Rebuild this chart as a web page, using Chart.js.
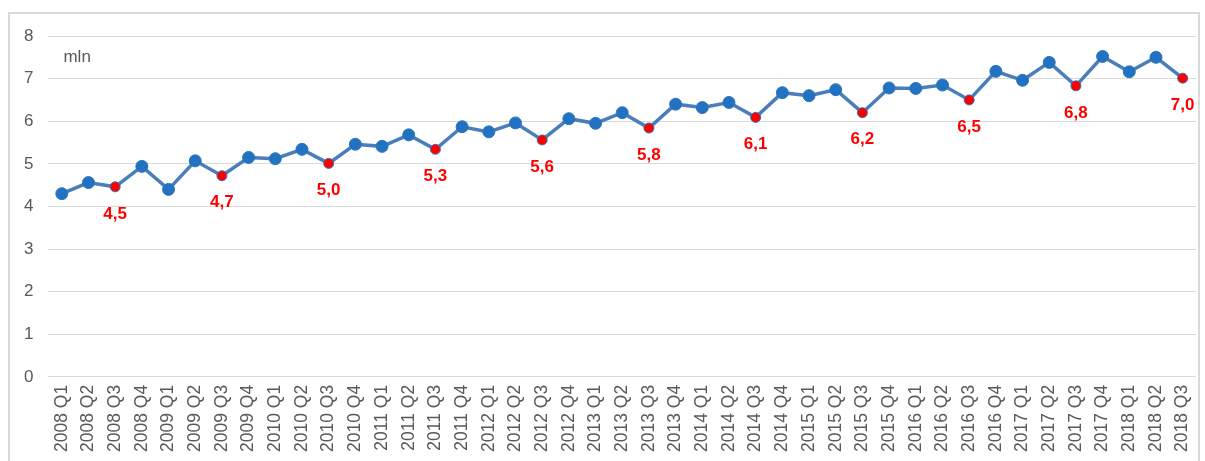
<!DOCTYPE html>
<html>
<head>
<meta charset="utf-8">
<script src="https://cdn.jsdelivr.net/npm/chart.js@4.4.0/dist/chart.umd.min.js"></script>
<style>
    body { margin: 0; background: #fff; overflow: hidden; }
    #frame { position: absolute; left: 8px; top: 12px; width: 1192px; height: 470px; border: 2px solid #d9d9d9; box-sizing: border-box; }
    #wrap { position: absolute; left: 0; top: 0; width: 1205px; height: 461px; }
</style>
</head>
<body>
<div id="frame"></div>
<div id="wrap"><canvas id="graphCanvas"></canvas></div>
<script>
var quarters = [];
var years = ['2008','2009','2010','2011','2012','2013','2014','2015','2016','2017','2018'];
for (var y = 0; y < years.length; y++) {
    for (var q = 1; q <= 4; q++) {
        if (years[y] === '2018' && q === 4) break;
        quarters.push(years[y] + ' Q' + q);
    }
}

// mln
var amount = [
    4.30, 4.56, 4.46, 4.94,
    4.40, 5.07, 4.72, 5.15,
    5.12, 5.34, 5.01, 5.46,
    5.41, 5.68, 5.34, 5.87,
    5.75, 5.96, 5.56, 6.06,
    5.95, 6.20, 5.84, 6.40,
    6.32, 6.44, 6.09, 6.67,
    6.60, 6.74, 6.20, 6.78,
    6.77, 6.85, 6.50, 7.17,
    6.96, 7.38, 6.83, 7.52,
    7.16, 7.50, 7.01
];

var yTicks = [0, 1, 2, 3, 4, 5, 6, 7, 8];
var unitLabel = 'mln';

// Q3 points are marked red and labelled
var pointFill = quarters.map(function (l) { return l.endsWith('Q3') ? '#ff0000' : '#2272c3'; });
var pointSize = quarters.map(function (l) { return l.endsWith('Q3') ? 5 : 6; });

var labelPlugin = {
    id: 'q3labels',
    afterDatasetsDraw: function (chart) {
        var ctx = chart.ctx;
        var meta = chart.getDatasetMeta(0);
        ctx.save();
        ctx.fillStyle = '#ff0000';
        ctx.font = 'bold 17px "Liberation Sans", Arial, sans-serif';
        ctx.textAlign = 'center';
        ctx.textBaseline = 'middle';
        for (var i = 0; i < quarters.length; i++) {
            if (!quarters[i].endsWith('Q3')) continue;
            var pt = meta.data[i];
            ctx.fillText(amount[i].toFixed(1).replace('.', ','), pt.x, pt.y + 27);
        }
        // unit label
        ctx.fillStyle = '#595959';
        ctx.font = '17px "Liberation Sans", Arial, sans-serif';
        ctx.textAlign = 'left';
        ctx.fillText(unitLabel, chart.chartArea.left + 15, chart.chartArea.top + 21);
        ctx.restore();
    }
};

var chartdata = {
    labels: quarters,
    datasets: [
        {
            label: 'Amount',
            data: amount,
            borderColor: '#4a7ebb',
            borderWidth: 3.5,
            pointBackgroundColor: pointFill,
            pointBorderColor: '#2e75b6',
            pointBorderWidth: 1,
            pointRadius: pointSize,
            tension: 0
        }
    ]
};

var barGraph = new Chart(document.getElementById('graphCanvas'), {
    type: 'line',
    data: chartdata,
    plugins: [labelPlugin],
    options: {
        responsive: true,
        maintainAspectRatio: false,
        animation: false,
        layout: { padding: { left: 9, top: 36, right: 9, bottom: 1 } },
        plugins: { legend: { display: false }, tooltip: { enabled: false } },
        scales: {
            x: {
                offset: true,
                grid: { display: false, drawTicks: false },
                border: { display: false },
                afterFit: function (scale) {
                    scale.paddingLeft = 0;
                    scale.paddingRight = 0;
                },
                ticks: {
                    color: '#595959',
                    font: { family: '"Liberation Sans", Arial, sans-serif', size: 17.5 },
                    minRotation: 90,
                    maxRotation: 90,
                    autoSkip: false,
                    padding: 8
                }
            },
            y: {
                min: 0,
                max: 8,
                afterBuildTicks: function (axis) {
                    axis.ticks = yTicks.map(function (v) { return { value: v }; });
                },
                grid: { color: '#d9d9d9', lineWidth: 1, drawTicks: false },
                border: { display: false },
                ticks: {
                    color: '#595959',
                    font: { family: '"Liberation Sans", Arial, sans-serif', size: 17 },
                    padding: 15
                }
            }
        }
    }
});
</script>
</body>
</html>
